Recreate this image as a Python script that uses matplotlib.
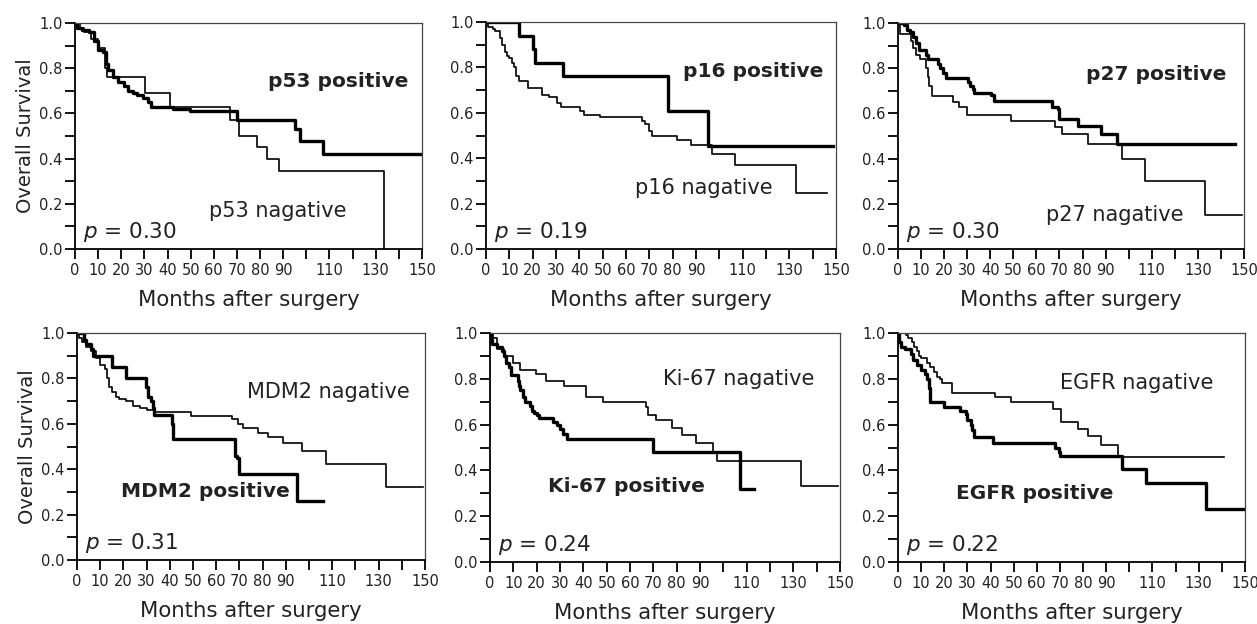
import matplotlib
matplotlib.use("Agg")
import matplotlib.pyplot as plt
import numpy as np

# ── Kaplan-Meier step data (months, survival) ────────────────────────────────
p53_pos_t = [0, 1, 3, 6, 8, 10, 12, 13.4, 14.4, 16.5, 18.7, 21, 23, 25, 27, 29.5, 31.7, 33,
             42.5, 49.7, 70.1, 95, 97.2, 107.2, 149.3]
p53_pos_s = [1.0, 0.98, 0.97, 0.96, 0.92, 0.88, 0.87, 0.82, 0.79, 0.76, 0.74, 0.72, 0.70, 0.69,
             0.68, 0.67, 0.65, 0.63, 0.62, 0.61, 0.57, 0.53, 0.48, 0.42, 0.42]
p53_neg_t = [0, 2, 4, 7, 10, 13, 14, 30.2, 41, 67, 71, 78.5, 82.8, 88.2, 133.4]
p53_neg_s = [1.0, 0.98, 0.96, 0.93, 0.89, 0.80, 0.76, 0.69, 0.63, 0.57, 0.50, 0.45, 0.40, 0.345, 0.0]

p16_pos_t = [0, 14, 20, 20.9, 33, 78, 95, 148.7]
p16_pos_s = [1.0, 0.94, 0.88, 0.82, 0.76, 0.61, 0.455, 0.455]
p16_neg_t = [0, 1, 3, 4, 6, 7, 8, 9, 10, 11, 12, 13, 14, 18, 24, 27, 30.4, 32, 40.4, 42, 49,
             66.9, 68.3, 70, 71, 81.9, 87.9, 96.9, 106.9, 133, 146]
p16_neg_s = [1.0, 0.98, 0.97, 0.96, 0.93, 0.90, 0.87, 0.85, 0.84, 0.82, 0.80, 0.76, 0.74, 0.71,
             0.68, 0.67, 0.645, 0.625, 0.61, 0.59, 0.58, 0.565, 0.55, 0.52, 0.50, 0.48, 0.46,
             0.42, 0.37, 0.245, 0.245]

p27_pos_t = [0, 2.4, 3.9, 5.3, 6.5, 7.9, 9.2, 12, 12.8, 17.2, 18.2, 19.7, 21, 30.5, 31.2, 32.3,
             33, 40.5, 41.5, 66.8, 69.3, 70, 77.9, 87.9, 95.1, 146]
p27_pos_s = [1.0, 0.99, 0.97, 0.96, 0.94, 0.91, 0.88, 0.86, 0.84, 0.82, 0.80, 0.78, 0.755,
             0.74, 0.72, 0.71, 0.69, 0.68, 0.655, 0.63, 0.62, 0.575, 0.545, 0.51, 0.465, 0.465]
p27_neg_t = [0, 1, 5.6, 6.5, 7.9, 9.6, 12, 12.8, 13.6, 14.7, 24, 26.6, 29.7, 48.9, 68.1, 71,
             82.2, 97, 107, 132.9, 149]
p27_neg_s = [1.0, 0.95, 0.92, 0.89, 0.86, 0.84, 0.80, 0.76, 0.72, 0.675, 0.65, 0.63, 0.595,
             0.565, 0.54, 0.51, 0.465, 0.40, 0.30, 0.15, 0.15]

mdm2_pos_t = [0, 3, 4, 6, 7, 15, 21, 29.7, 30.7, 31.7, 32.6, 33, 40.8, 41.5, 68, 69, 70, 95, 106]
mdm2_pos_s = [1.0, 0.97, 0.95, 0.93, 0.90, 0.85, 0.80, 0.76, 0.72, 0.70, 0.67, 0.64, 0.60,
              0.535, 0.46, 0.45, 0.38, 0.26, 0.26]
mdm2_neg_t = [0, 1, 2, 4, 6, 8, 10, 12, 13, 14, 15, 17, 18, 21, 24, 27, 30, 33, 49, 66.7, 69.5,
              71.4, 77.9, 82.2, 88.6, 96.8, 107.2, 133.2, 149]
mdm2_neg_s = [1.0, 0.98, 0.96, 0.94, 0.92, 0.89, 0.86, 0.84, 0.80, 0.76, 0.74, 0.72, 0.71,
              0.70, 0.68, 0.67, 0.66, 0.65, 0.635, 0.62, 0.60, 0.58, 0.56, 0.54, 0.515, 0.48,
              0.425, 0.32, 0.32]

ki67_pos_t = [0, 0.5, 1, 3, 5, 6, 7, 8, 9, 11.9, 12.5, 13, 14, 15, 17, 18, 19, 20, 21, 26.9,
              28.6, 30, 31.4, 32.9, 70, 107, 113.3]
ki67_pos_s = [1.0, 0.97, 0.95, 0.94, 0.92, 0.90, 0.87, 0.85, 0.815, 0.79, 0.77, 0.75, 0.72,
              0.70, 0.68, 0.66, 0.65, 0.64, 0.63, 0.61, 0.60, 0.58, 0.56, 0.535, 0.48, 0.32, 0.32]
ki67_neg_t = [0, 1.4, 3.1, 6.1, 10, 12.9, 19.7, 24, 31.9, 41, 48.6, 66.9, 67.9, 71.1, 78.1,
              82.1, 88.3, 95.4, 97.1, 133.3, 149.3]
ki67_neg_s = [1.0, 0.98, 0.93, 0.90, 0.87, 0.84, 0.82, 0.79, 0.77, 0.72, 0.70, 0.675, 0.64,
              0.62, 0.585, 0.555, 0.52, 0.475, 0.44, 0.33, 0.33]

egfr_pos_t = [0, 0.5, 1.5, 3, 5.6, 6.5, 8, 10, 11.5, 12.7, 13.5, 14, 20, 26.7, 29.2, 30, 31.4,
              32, 32.8, 40.9, 68, 69.5, 70.2, 97, 107, 133, 149]
egfr_pos_s = [1.0, 0.96, 0.94, 0.93, 0.91, 0.88, 0.86, 0.84, 0.82, 0.80, 0.76, 0.70, 0.675,
              0.66, 0.645, 0.62, 0.60, 0.575, 0.545, 0.52, 0.50, 0.48, 0.465, 0.405, 0.345,
              0.23, 0.23]
egfr_neg_t = [0, 3.6, 4.5, 6, 7, 8, 9, 10, 12.5, 14, 15.5, 17, 18, 19, 23.5, 41.8, 49, 66.8,
              70.6, 77.7, 82, 87.7, 94.9, 140.8]
egfr_neg_s = [1.0, 0.99, 0.98, 0.96, 0.94, 0.92, 0.90, 0.89, 0.87, 0.85, 0.83, 0.81, 0.80,
              0.78, 0.74, 0.72, 0.70, 0.67, 0.61, 0.58, 0.55, 0.51, 0.46, 0.46]

marker_names = ["p53", "p16", "p27", "MDM2", "Ki-67", "EGFR"]
p_values = ["0.30", "0.19", "0.30", "0.31", "0.24", "0.22"]

curves = {
    "p53": (p53_pos_t, p53_pos_s, p53_neg_t, p53_neg_s),
    "p16": (p16_pos_t, p16_pos_s, p16_neg_t, p16_neg_s),
    "p27": (p27_pos_t, p27_pos_s, p27_neg_t, p27_neg_s),
    "MDM2": (mdm2_pos_t, mdm2_pos_s, mdm2_neg_t, mdm2_neg_s),
    "Ki-67": (ki67_pos_t, ki67_pos_s, ki67_neg_t, ki67_neg_s),
    "EGFR": (egfr_pos_t, egfr_pos_s, egfr_neg_t, egfr_neg_s),
}

# label placement (data coords): positive (x, y), negative (x, y)
label_pos = {
    "p53": ((113.7, 0.74), (87.8, 0.17)),
    "p16": ((114.4, 0.78), (93.2, 0.27)),
    "p27": ((111.9, 0.77), (94.0, 0.15)),
    "MDM2": ((55.5, 0.30), (108.4, 0.74)),
    "Ki-67": ((58.3, 0.33), (106.6, 0.80)),
    "EGFR": ((58.9, 0.30), (103.0, 0.78)),
}

# axes boxes in pixels: left, right, top, bottom
W, H = 1257, 624
boxes = [(75, 422, 23, 249), (486, 836, 22, 249), (898, 1244, 23, 249),
         (77, 425, 333, 560), (490, 840, 333, 562), (898, 1245, 333, 562)]

plt.rcParams.update({"font.family": "DejaVu Sans"})
fig = plt.figure(figsize=(W / 100, H / 100), dpi=100)

xticks = np.arange(0, 151, 10)
xlabels = [str(v) if (v <= 90 or v in (110, 130, 150)) else "" for v in xticks]

for i, (name, pval) in enumerate(zip(marker_names, p_values)):
    l, r, t, b = boxes[i]
    ax = fig.add_axes([l / W, 1 - b / H, (r - l) / W, (b - t) / H])
    pt, ps, nt, ns = curves[name]
    ax.step(nt, ns, where="post", color="black", lw=1.2)
    ax.step(pt, ps, where="post", color="black", lw=2.4)

    ax.set_xlim(0, 150)
    ax.set_ylim(0, 1.0)
    ax.set_xticks(xticks)
    ax.set_xticklabels(xlabels, fontsize=10.5, color="#222")
    ax.set_yticks(np.arange(0, 1.01, 0.2))
    ax.set_yticklabels([f"{v:.1f}" for v in np.arange(0, 1.01, 0.2)], fontsize=10.5, color="#222")
    ax.set_yticks(np.arange(0.1, 1.0, 0.2), minor=True)
    ax.tick_params(axis="both", which="both", direction="out", length=7, width=1.3, pad=2)
    ax.tick_params(axis="x", pad=3)
    for side in ("top", "right"):
        ax.spines[side].set_color("#444")
        ax.spines[side].set_linewidth(0.9)
    for side in ("left", "bottom"):
        ax.spines[side].set_color("black")
        ax.spines[side].set_linewidth(1.3)

    ax.set_xlabel("Months after surgery", fontsize=15.3, color="#222", labelpad=9)
    if i % 3 == 0:
        ax.set_ylabel("Overall Survival", fontsize=14, color="#222", labelpad=3)

    (px, py), (nx, ny) = label_pos[name]
    ax.text(px, py, f"{name} positive", fontsize=14.5, fontweight="bold", color="#222",
            ha="center", va="center")
    ax.text(nx, ny, f"{name} nagative", fontsize=15, color="#222", ha="center", va="center")
    ax.text(3.3, 0.075, f"$p$ = {pval}", fontsize=15.5, color="#222", ha="left", va="center")

fig.savefig("out.png", dpi=100)
